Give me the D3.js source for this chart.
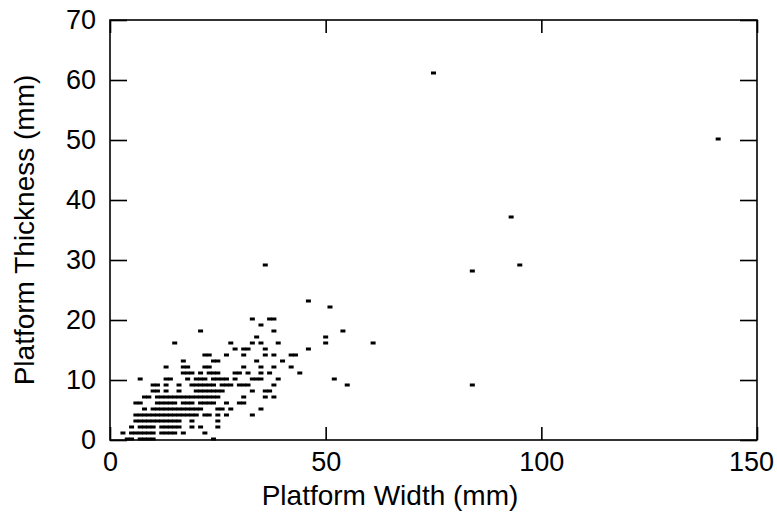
<!DOCTYPE html>
<html>
<head>
<meta charset="utf-8">
<script src="https://cdn.jsdelivr.net/npm/d3@7"></script>
<style>
  html, body { margin: 0; padding: 0; background: #fff; }
  svg { display: block; }
  text { font-family: "Liberation Sans", Arial, Helvetica, sans-serif; fill: #000; }
</style>
</head>
<body>
<svg id="chart" width="777" height="514"></svg>
<script>
// ---- data (mm) ----
const platformWidth = [
  4, 5, 7, 8, 9, 10, 24,
  3, 5, 6, 7, 8, 9, 10, 12, 13, 14, 15, 17, 22,
  5, 7, 8, 9, 10, 12, 13, 14, 15, 16, 19, 21, 25,
  6, 7, 8, 9, 10, 11, 12, 13, 14, 15, 16, 19, 25,
  6, 7, 8, 9, 10, 11, 12, 13, 14, 15, 16, 17, 18, 19, 20, 22, 23, 25, 27, 33,
  8, 10, 11, 12, 13, 14, 15, 16, 17, 18, 19, 20, 21, 25, 26, 28, 35,
  6, 7, 11, 12, 13, 14, 15, 17, 18, 19, 21, 22, 23, 24, 27, 30, 31,
  8, 9, 11, 12, 13, 14, 15, 16, 17, 18, 19, 20, 21, 22, 23, 24, 25, 31, 36, 38,
  10, 11, 13, 16, 20, 21, 22, 23, 24, 25, 26, 33, 36, 37,
  10, 11, 13, 16, 19, 20, 21, 22, 23, 24, 26, 27, 28, 30, 31, 32, 38, 55, 84,
  7, 13, 14, 18, 20, 21, 22, 24, 25, 26, 27, 29, 33, 34, 35, 39, 52,
  17, 18, 19, 21, 23, 24, 25, 29, 30, 32, 35, 37, 44,
  13, 17, 18, 22, 23, 31, 35, 38, 42,
  17, 24, 25, 34, 40,
  22, 23, 27, 31, 36, 38, 42, 43,
  29, 31, 32, 36, 46,
  15, 28, 33, 35, 39, 50, 61,
  34, 50,
  21, 38, 54,
  35,
  33, 37, 38,
  51,
  46,
  84,
  36, 95,
  93,
  141,
  75
];
const platformThickness = [
  0, 0, 0, 0, 0, 0, 0,
  1, 1, 1, 1, 1, 1, 1, 1, 1, 1, 1, 1, 1,
  2, 2, 2, 2, 2, 2, 2, 2, 2, 2, 2, 2, 2,
  3, 3, 3, 3, 3, 3, 3, 3, 3, 3, 3, 3, 3,
  4, 4, 4, 4, 4, 4, 4, 4, 4, 4, 4, 4, 4, 4, 4, 4, 4, 4, 4, 4,
  5, 5, 5, 5, 5, 5, 5, 5, 5, 5, 5, 5, 5, 5, 5, 5, 5,
  6, 6, 6, 6, 6, 6, 6, 6, 6, 6, 6, 6, 6, 6, 6, 6, 6,
  7, 7, 7, 7, 7, 7, 7, 7, 7, 7, 7, 7, 7, 7, 7, 7, 7, 7, 7, 7,
  8, 8, 8, 8, 8, 8, 8, 8, 8, 8, 8, 8, 8, 8,
  9, 9, 9, 9, 9, 9, 9, 9, 9, 9, 9, 9, 9, 9, 9, 9, 9, 9, 9,
  10, 10, 10, 10, 10, 10, 10, 10, 10, 10, 10, 10, 10, 10, 10, 10, 10,
  11, 11, 11, 11, 11, 11, 11, 11, 11, 11, 11, 11, 11,
  12, 12, 12, 12, 12, 12, 12, 12, 12,
  13, 13, 13, 13, 13,
  14, 14, 14, 14, 14, 14, 14, 14,
  15, 15, 15, 15, 15,
  16, 16, 16, 16, 16, 16, 16,
  17, 17,
  18, 18, 18,
  19,
  20, 20, 20,
  22,
  23,
  28,
  29, 29,
  37,
  50,
  61
];
const xTicks = [0, 50, 100, 150];
const yTicks = [0, 10, 20, 30, 40, 50, 60, 70];
const xTitle = "Platform Width (mm)";
const yTitle = "Platform Thickness (mm)";

// ---- layout ----
const W = 777, H = 514;
const margin = { left: 110, top: 20, right: 20, bottom: 74 };
const iw = W - margin.left - margin.right;
const ih = H - margin.top - margin.bottom;

const svg = d3.select("#chart");
const g = svg.append("g").attr("transform", `translate(${margin.left},${margin.top})`);

const x = d3.scaleLinear().domain([0, 150]).range([0, iw]);
const y = d3.scaleLinear().domain([0, 70]).range([ih, 0]);

const TICK_FONT = 27;
const TITLE_FONT = 28;

// axes with inward ticks
const axBottom = g.append("g").attr("transform", `translate(0,${ih})`)
  .call(d3.axisBottom(x).tickValues(xTicks).tickSize(-13).tickPadding(12).tickFormat(d3.format("d")));
const axLeft = g.append("g")
  .call(d3.axisLeft(y).tickValues(yTicks).tickSize(-17).tickPadding(14).tickFormat(d3.format("d")));
const axTop = g.append("g")
  .call(d3.axisTop(x).tickValues(xTicks).tickSize(-13).tickFormat(""));
const axRight = g.append("g").attr("transform", `translate(${iw},0)`)
  .call(d3.axisRight(y).tickValues(yTicks).tickSize(-17).tickFormat(""));

[axBottom, axLeft, axTop, axRight].forEach(a => {
  a.select(".domain").remove();
  a.selectAll(".tick line").attr("stroke", "#000").attr("stroke-width", 1.6);
  a.selectAll(".tick text").attr("font-size", TICK_FONT).attr("fill", "#000")
    .style("font-family", '"Liberation Sans", Arial, sans-serif');
});
// keep the last x label inside the canvas, as in the reference
axBottom.selectAll(".tick text").filter(d => d === 150).attr("dx", -6);

// frame
g.append("rect")
  .attr("x", 0).attr("y", 0).attr("width", iw).attr("height", ih)
  .attr("fill", "none").attr("stroke", "#000").attr("stroke-width", 1.6);

// points: small horizontal dashes
const pts = platformWidth.map((w, i) => ({ w, t: platformThickness[i] }));
g.append("g").selectAll("rect").data(pts).join("rect")
  .attr("x", d => x(d.w) - 2.5)
  .attr("y", d => y(d.t) - 2.5)
  .attr("width", 5)
  .attr("height", 3)
  .attr("fill", "#000");

// titles
svg.append("text")
  .attr("x", 390).attr("y", 505)
  .attr("text-anchor", "middle")
  .attr("font-size", TITLE_FONT)
  .text(xTitle);

svg.append("text")
  .attr("transform", `translate(34,${margin.top + ih / 2}) rotate(-90)`)
  .attr("text-anchor", "middle")
  .attr("font-size", TITLE_FONT)
  .text(yTitle);
</script>
</body>
</html>
